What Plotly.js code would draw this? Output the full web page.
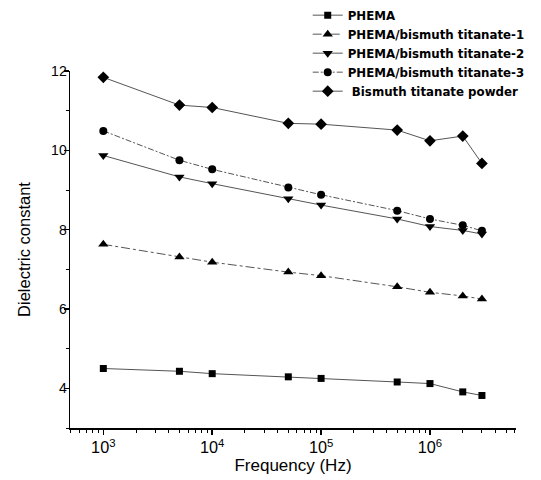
<!DOCTYPE html>
<html>
<head>
<meta charset="utf-8">
<script src="https://cdn.plot.ly/plotly-3.0.1.min.js"></script>
<style>html,body{margin:0;padding:0;background:#fff;}#chart{width:541px;height:480px;}</style>
</head>
<body>
<div id="chart"></div>
<script>
const frequency = [1e3, 5e3, 1e4, 5e4, 1e5, 5e5, 1e6, 2e6, 3e6];
const phema = [4.50, 4.43, 4.37, 4.29, 4.25, 4.16, 4.12, 3.91, 3.82];
const bt1 = [7.63, 7.31, 7.18, 6.93, 6.84, 6.56, 6.42, 6.33, 6.25];
const bt2 = [9.87, 9.33, 9.16, 8.78, 8.62, 8.27, 8.08, 7.98, 7.89];
const bt3 = [10.49, 9.75, 9.52, 9.06, 8.88, 8.48, 8.27, 8.11, 7.97];
const powder = [11.84, 11.14, 11.08, 10.68, 10.66, 10.51, 10.24, 10.36, 9.67];
const seriesNames = ["PHEMA", "PHEMA/bismuth titanate-1", "PHEMA/bismuth titanate-2", "PHEMA/bismuth titanate-3", " Bismuth titanate powder"];

const seriesData = [phema, bt1, bt2, bt3, powder];
const symbols = ["square", "triangle-up", "triangle-down", "circle", "diamond"];
const sizes = [7, 9, 9, 8, 9];
const dashes = ["solid", "dashdot", "solid", "6px,2px,2px,2px", "solid"];

const traces = seriesData.map((ys, i) => ({
  x: frequency,
  y: ys,
  name: seriesNames[i],
  type: "scatter",
  mode: "lines+markers",
  line: {color: "#555", width: 1, dash: dashes[i]},
  marker: {symbol: symbols[i], size: sizes[i], color: "#000"}
}));

const layout = {
  width: 541,
  height: 480,
  paper_bgcolor: "#fff",
  plot_bgcolor: "#fff",
  margin: {l: 70, r: 25, t: 71, b: 52, autoexpand: false},
  font: {family: "Liberation Sans, Arial, sans-serif", color: "#000"},
  showlegend: true,
  legend: {
    x: 0.533, y: 1.197, xanchor: "left", yanchor: "top",
    bgcolor: "rgba(0,0,0,0)",
    font: {size: 11.8, family: "DejaVu Sans, sans-serif", weight: "bold"},
    tracegroupgap: 0
  },
  xaxis: {
    type: "log",
    range: [2.694, 6.79],
    dtick: 1,
    exponentformat: "power",
    showgrid: false,
    zeroline: false,
    showline: true,
    linecolor: "#000",
    linewidth: 1.5,
    ticks: "outside",
    ticklen: 5,
    tickwidth: 1.5,
    tickcolor: "#000",
    tickfont: {size: 13},
    minor: {ticks: "outside", ticklen: 3, tickwidth: 1, tickcolor: "#000", dtick: "D1", showgrid: false},
    title: {text: "Frequency (Hz)", font: {size: 17}, standoff: 3}
  },
  yaxis: {
    range: [3, 12],
    dtick: 2,
    tick0: 0,
    showgrid: false,
    zeroline: false,
    showline: true,
    linecolor: "#000",
    linewidth: 1.5,
    ticks: "outside",
    ticklen: 5,
    tickwidth: 1.5,
    tickcolor: "#000",
    tickfont: {size: 14},
    ticklabelstandoff: -6,
    minor: {ticks: "outside", ticklen: 3, tickwidth: 1, tickcolor: "#000", dtick: 1, showgrid: false},
    title: {text: "Dielectric constant", font: {size: 16.5}, standoff: 16}
  }
};

Plotly.newPlot("chart", traces, layout, {displayModeBar: false, staticPlot: true});
</script>
</body>
</html>
